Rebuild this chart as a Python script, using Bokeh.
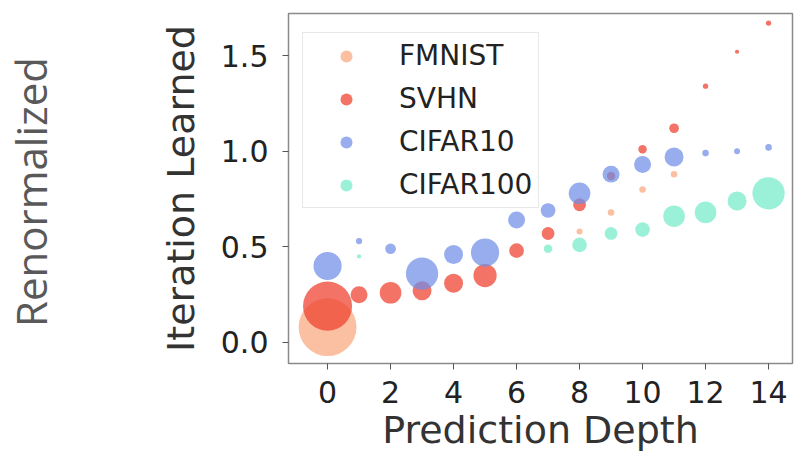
import numpy as np
from bokeh.plotting import figure
from bokeh.layouts import row
from bokeh.models import Range1d, FixedTicker, Legend, LegendItem, ColumnDataSource
from bokeh.core.properties import value
from bokeh.embed import file_html
from bokeh.resources import INLINE

# ---- data ----
datasets = ["FMNIST", "SVHN", "CIFAR10", "CIFAR100"]

fmnist_depth = [0, 8, 9, 10, 11]
fmnist_iter = [0.08, 0.58, 0.68, 0.80, 0.88]
fmnist_frac = [0.93, 0.010, 0.012, 0.012, 0.012]

svhn_depth = [0, 1, 2, 3, 4, 5, 6, 7, 8, 9, 10, 11, 12, 13, 14]
svhn_iter = [0.19, 0.25, 0.26, 0.27, 0.31, 0.35, 0.48, 0.57, 0.72, 0.87, 1.01, 1.12, 1.34, 1.52, 1.67]
svhn_frac = [0.67, 0.08, 0.13, 0.10, 0.10, 0.15, 0.06, 0.046, 0.046, 0.02, 0.02, 0.026, 0.008, 0.005, 0.008]

cifar10_depth = [0, 1, 2, 3, 4, 5, 6, 7, 8, 9, 10, 11, 12, 13, 14]
cifar10_iter = [0.40, 0.53, 0.49, 0.36, 0.46, 0.47, 0.64, 0.69, 0.78, 0.88, 0.93, 0.97, 0.99, 1.00, 1.02]
cifar10_frac = [0.22, 0.011, 0.032, 0.29, 0.10, 0.22, 0.08, 0.06, 0.13, 0.08, 0.08, 0.10, 0.012, 0.010, 0.012]

cifar100_depth = [1, 7, 8, 9, 10, 11, 12, 13, 14]
cifar100_iter = [0.45, 0.49, 0.51, 0.57, 0.59, 0.66, 0.68, 0.74, 0.78]
cifar100_frac = [0.005, 0.02, 0.06, 0.046, 0.06, 0.13, 0.13, 0.10, 0.29]

x_ticks = [0, 2, 4, 6, 8, 10, 12, 14]
y_ticks = [0.0, 0.5, 1.0, 1.5]
y_tick_labels = ["0.0", "0.5", "1.0", "1.5"]
side_title = "Renormalized"

colors = ["#f9a77e", "#ee3f2c", "#6f8de6", "#74ecc9"]

# ---- left strip holding the side title ----
side = figure(width=60, height=455, output_backend="svg", toolbar_location=None,
              x_range=Range1d(0, 1), y_range=Range1d(0, 1),
              min_border_left=0, min_border_right=0, min_border_top=0, min_border_bottom=0)
side.axis.visible = False
side.grid.visible = False
side.outline_line_color = None
side.text(x=[0.5], y=[0.49], text=[side_title], angle=np.pi / 2,
          text_align="center", text_baseline="middle",
          text_font=value("Open Sans"), text_font_size="42px", text_color="#595959")

# ---- main scatter ----
p = figure(width=734, height=455, output_backend="svg", toolbar_location=None,
           x_range=Range1d(-1.24, 14.76), y_range=Range1d(-0.11, 1.72),
           min_border_left=228, min_border_right=2, min_border_top=13, min_border_bottom=92)
p.xgrid.visible = False
p.ygrid.visible = False
p.outline_line_color = "#8a8a8a"
p.outline_line_width = 1.5
p.background_fill_color = "white"

series = [
    (fmnist_depth, fmnist_iter, fmnist_frac),
    (svhn_depth, svhn_iter, svhn_frac),
    (cifar10_depth, cifar10_iter, cifar10_frac),
    (cifar100_depth, cifar100_iter, cifar100_frac),
]
items = []
for name, (d, it, fr), c in zip(datasets, series, colors):
    src = ColumnDataSource(dict(x=d, y=it, s=list(60 * np.sqrt(np.array(fr)))))
    r = p.scatter("x", "y", size="s", source=src, fill_color=c, fill_alpha=0.72,
                  line_color=None)
    items.append(LegendItem(label=name, renderers=[r]))

legend = Legend(items=items, location=(14, 155), glyph_width=74, glyph_height=30,
                spacing=10, padding=6, label_standoff=16,
                label_text_font="DejaVu Sans", label_text_font_size="28px",
                label_text_color="#222222",
                border_line_color="#d0d0d0", border_line_width=1.2,
                background_fill_color="white", background_fill_alpha=0.8)
p.add_layout(legend, "center")

for ax in (p.xaxis[0], p.yaxis[0]):
    ax.axis_line_color = None
    ax.minor_tick_line_color = None
    ax.major_tick_in = 0
    ax.major_tick_out = 6
    ax.major_tick_line_color = "#555555"
    ax.major_label_text_font = "DejaVu Sans"
    ax.major_label_text_font_size = "30px"
    ax.major_label_text_color = "#222222"
    ax.axis_label_text_font = "DejaVu Sans"
    ax.axis_label_text_font_size = "38px"
    ax.axis_label_text_font_style = "normal"
    ax.axis_label_text_color = "#333333"

p.xaxis.ticker = FixedTicker(ticks=x_ticks)
p.xaxis.major_label_standoff = 11
p.xaxis.axis_label = "Prediction Depth"
p.xaxis.axis_label_standoff = 2

p.yaxis.ticker = FixedTicker(ticks=y_ticks)
p.yaxis.major_label_overrides = {t: l for t, l in zip(y_ticks, y_tick_labels)}
p.yaxis.major_label_standoff = 14
p.yaxis.axis_label = "Iteration Learned"
p.yaxis.axis_label_standoff = 15

layout = row(side, p, spacing=0)
open("out.html", "w").write(file_html(layout, INLINE))
